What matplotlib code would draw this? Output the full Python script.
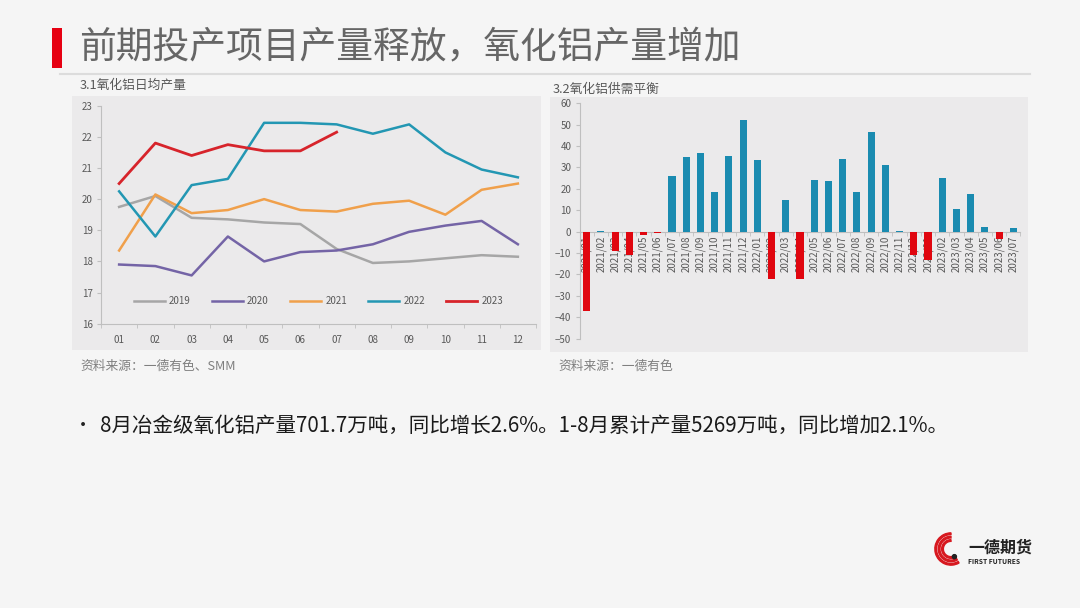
import matplotlib
matplotlib.use("Agg")
import matplotlib.pyplot as plt
from matplotlib.patches import Rectangle, Wedge, Circle
import numpy as np

plt.rcParams['font.family'] = ['Noto Sans CJK SC', 'DejaVu Sans']

# ---------------- data ----------------
months = ["01", "02", "03", "04", "05", "06", "07", "08", "09", "10", "11", "12"]
y2019 = [19.75, 20.1, 19.4, 19.35, 19.25, 19.2, 18.4, 17.95, 18.0, 18.1, 18.2, 18.15]
y2020 = [17.9, 17.85, 17.55, 18.8, 18.0, 18.3, 18.35, 18.55, 18.95, 19.15, 19.3, 18.55]
y2021 = [18.35, 20.15, 19.55, 19.65, 20.0, 19.65, 19.6, 19.85, 19.95, 19.5, 20.3, 20.5]
y2022 = [20.25, 18.8, 20.45, 20.65, 22.45, 22.45, 22.4, 22.1, 22.4, 21.5, 20.95, 20.7]
y2023 = [20.5, 21.8, 21.4, 21.75, 21.55, 21.55, 22.15]
line_series = [("2019", y2019), ("2020", y2020), ("2021", y2021), ("2022", y2022), ("2023", y2023)]

bal_labels = ["2021/01", "2021/02", "2021/03", "2021/04", "2021/05", "2021/06",
              "2021/07", "2021/08", "2021/09", "2021/10", "2021/11", "2021/12",
              "2022/01", "2022/02", "2022/03", "2022/04", "2022/05", "2022/06",
              "2022/07", "2022/08", "2022/09", "2022/10", "2022/11", "2022/12",
              "2023/01", "2023/02", "2023/03", "2023/04", "2023/05", "2023/06", "2023/07"]
bal_values = [-37, 0.5, -9, -11, -1.5, -0.4, 26, 35, 37, 18.5, 35.5, 52,
              33.5, -22, 15, -22, 24, 23.5, 34, 18.5, 46.5, 31, 0.5, -11,
              -13, 25, 10.5, 17.5, 2, -3.5, 1.5]

# ---------------- figure ----------------
W, H = 1080, 608
fig = plt.figure(figsize=(W / 100, H / 100), dpi=100)
fig.patch.set_facecolor("#f5f5f5")

def fx(x): return x / W
def fy(y): return 1 - y / H

# title decorations
fig.patches.append(Rectangle((fx(52), fy(68)), fx(10), 40 / H, transform=fig.transFigure,
                             facecolor="#e60012", edgecolor="none"))
fig.text(fx(79), fy(48), "前期投产项目产量释放，氧化铝产量增加", fontsize=26.5, color="#666666",
         va="center", ha="left", fontweight="light")
fig.lines.append(plt.Line2D([fx(60), fx(1030)], [fy(73.5), fy(73.5)], transform=fig.transFigure,
                            color="#dcdcdc", lw=1.5))

# panel backgrounds
panel_col = "#ebeaeb"
fig.patches.append(Rectangle((fx(72), fy(350)), fx(541 - 72), (350 - 96) / H, transform=fig.transFigure,
                             facecolor=panel_col, edgecolor="none", zorder=-5))
fig.patches.append(Rectangle((fx(550), fy(352)), fx(1028 - 550), (352 - 97) / H, transform=fig.transFigure,
                             facecolor=panel_col, edgecolor="none", zorder=-5))

fig.text(fx(80), fy(85), "3.1氧化铝日均产量", fontsize=9.2, color="#595959", va="center")
fig.text(fx(553), fy(89), "3.2氧化铝供需平衡", fontsize=9.2, color="#595959", va="center")
fig.text(fx(80), fy(366), "资料来源：一德有色、SMM", fontsize=9.2, color="#7f7f7f", va="center")
fig.text(fx(558), fy(366), "资料来源：一德有色", fontsize=9.2, color="#7f7f7f", va="center")

fig.text(fx(74), fy(426), "•", fontsize=13, color="#222222", va="center")
fig.text(fx(100), fy(426), "8月冶金级氧化铝产量701.7万吨，同比增长2.6%。1-8月累计产量5269万吨，同比增加2.1%。",
         fontsize=14.8, color="#1a1a1a", va="center")

# ---------------- line chart ----------------
ax1 = fig.add_axes([fx(101), fy(323.7), fx(536 - 101), (323.7 - 105.7) / H])
ax1.set_facecolor("none")
colors = {"2019": "#a6a6a6", "2020": "#7464a6", "2021": "#f0a04b", "2022": "#2397b3", "2023": "#d7242b"}
x = np.arange(len(months))
for name, vals in line_series:
    ax1.plot(x[:len(vals)], vals, color=colors[name], lw=1.8 if name != "2023" else 2.0, label=name)
ax1.set_xlim(-0.5, len(months) - 0.5)
ax1.set_ylim(16, 23)
ax1.set_yticks(range(16, 24))
ax1.set_xticks(x)
ax1.set_xticklabels(months)
ax1.set_xticks(np.arange(-0.5, len(months), 1), minor=True)
ax1.tick_params(axis="x", which="major", length=0, labelsize=7, colors="#595959", pad=8)
ax1.tick_params(axis="x", which="minor", length=3, color="#bfbfbf")
ax1.tick_params(axis="y", length=3, color="#bfbfbf", labelsize=7, labelcolor="#595959", pad=3)
for s in ["top", "right"]:
    ax1.spines[s].set_visible(False)
for s in ["left", "bottom"]:
    ax1.spines[s].set_color("#bfbfbf")
    ax1.spines[s].set_linewidth(0.8)
leg = ax1.legend(loc="lower center", bbox_to_anchor=(0.5, 0.04), ncol=5, frameon=False,
                 fontsize=7, handlelength=3.2, columnspacing=2.2, handletextpad=0.4)
for t in leg.get_texts():
    t.set_color("#595959")

# ---------------- bar chart ----------------
ax2 = fig.add_axes([fx(579.6), fy(338.7), fx(1020.4 - 579.6), (338.7 - 103.3) / H])
ax2.set_facecolor("none")
xb = np.arange(len(bal_labels))
bar_colors = ["#1a8bb0" if v >= 0 else "#e0060f" for v in bal_values]
ax2.bar(xb, bal_values, width=0.5, color=bar_colors, zorder=3)
ax2.set_xlim(-0.5, len(bal_labels) - 0.5)
ax2.set_ylim(-50, 60)
ax2.set_yticks(range(-50, 61, 10))
ax2.spines["bottom"].set_position(("data", 0))
ax2.set_xticks(xb)
ax2.set_xticklabels(bal_labels, rotation=90)
ax2.set_xticks(np.arange(-0.5, len(bal_labels), 1), minor=True)
ax2.tick_params(axis="x", which="major", length=0, labelsize=7, colors="#595959", pad=3)
ax2.tick_params(axis="x", which="minor", length=3, color="#bfbfbf")
ax2.tick_params(axis="y", length=3, color="#bfbfbf", labelsize=7, labelcolor="#595959", pad=3)
for s in ["top", "right"]:
    ax2.spines[s].set_visible(False)
for s in ["left", "bottom"]:
    ax2.spines[s].set_color("#bfbfbf")
    ax2.spines[s].set_linewidth(0.8)

# ---------------- logo ----------------
lax = fig.add_axes([fx(934), fy(566), fx(34), 34 / H])
lax.set_xlim(-1, 1)
lax.set_ylim(-1, 1)
lax.set_aspect("equal")
lax.axis("off")
for r in [0.95, 0.75, 0.55]:
    lax.add_patch(Wedge((0, 0), r, 90, 300, width=0.1, color="#d7181f"))
lax.add_patch(Circle((0.2, -0.45), 0.12, color="#222222"))
fig.text(fx(968), fy(548), "一德期货", fontsize=11.5, color="#222222", fontweight="bold", va="center")
fig.text(fx(968), fy(561), "FIRST FUTURES", fontsize=4.8, color="#222222", fontweight="bold", va="center")

fig.savefig("out.png", dpi=100, facecolor=fig.get_facecolor())
